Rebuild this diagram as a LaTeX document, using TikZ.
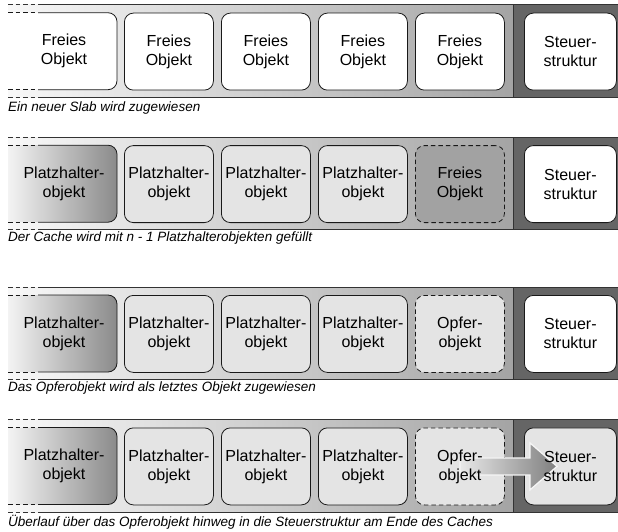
\documentclass[tikz,border=0pt]{standalone}
\usepackage{fontspec}
\setmainfont{Liberation Sans}
\usetikzlibrary{calc}

\definecolor{bandlight}{HTML}{F8F8F8}
\definecolor{banddark}{HTML}{A4A4A4}
\definecolor{ctrlbg}{HTML}{656565}
\definecolor{edgegray}{HTML}{333333}
\definecolor{objgray}{HTML}{E4E4E4}
\definecolor{freegray}{HTML}{A2A2A2}
\definecolor{holdgray}{HTML}{8A8A8A}

\tikzset{
  x=1pt, y=1pt,
  stripline/.style={draw=edgegray, line width=0.9pt},
  objline/.style={draw=black!90, line width=0.8pt},
  leftdash/.style={dash pattern=on 4.5pt off 3pt},
  objbox/.style={objline, rounded corners=9pt, minimum width=89pt,
    minimum height=77pt, inner sep=0pt, align=center, anchor=north west,
    font=\fontsize{16}{19}\selectfont},
  ctrlbox/.style={objbox, minimum width=92pt},
  spare/.style={objbox, leftdash},
  objtext/.style={inner sep=0pt, align=center, font=\fontsize{16}{19}\selectfont},
  caption/.style={anchor=base west, inner sep=0pt,
    font=\fontsize{13.5}{16}\selectfont\itshape},
  holdshade/.style={left color=white, middle color=black!16, right color=holdgray},
  flowarrow/.style={draw=white!96!black, line width=1.3pt,
    left color=black!9, middle color=black!20, right color=black!50},
}

% background strip of one slab: #1 = top edge (px from the top)
\newcommand\slabstrip[1]{%
  \shade[left color=bandlight, right color=banddark]
    (8,-#1) rectangle (513,-#1-92.5);
  \fill[ctrlbg] (513,-#1) rectangle (618,-#1-92.5);
  \draw[stripline] (38,-#1) -- (618,-#1) (38,-#1-92.5) -- (618,-#1-92.5);
  \draw[stripline, leftdash] (8,-#1) -- (38,-#1) (8,-#1-92.5) -- (38,-#1-92.5);
  \draw[stripline] (513,-#1) -- (513,-#1-92.5);
}

% first object of a slab, cut open on its left side
% #1 = strip top, #2 = fill options, #3 = node name, #4 = text
\newcommand\headobject[4]{%
  \begin{scope}
    \clip (8,0) rectangle (130,-540);
    \path[#2, rounded corners=9pt] (-4,-#1-8) rectangle (117,-#1-85);
  \end{scope}
  \begin{scope}
    \clip (38,0) rectangle (130,-540);
    \draw[objline, rounded corners=9pt] (-4,-#1-8) rectangle (117,-#1-85);
  \end{scope}
  \draw[objline, leftdash] (8,-#1-8) -- (38,-#1-8) (8,-#1-85) -- (38,-#1-85);
  \node[objtext] (#3) at (64,-#1-46.5) {#4};
}

\begin{document}
\begin{tikzpicture}
\useasboundingbox (0,0) rectangle (618,-532);

% ---- a new slab is allocated
\slabstrip{4.7}
\headobject{4.7}{fill=white}{a1}{Freies\\Objekt}
\node[objbox, fill=white] (a2) at (124,-12.7) {Freies\\Objekt};
\node[objbox, fill=white] (a3) at (221,-12.7) {Freies\\Objekt};
\node[objbox, fill=white] (a4) at (318,-12.7) {Freies\\Objekt};
\node[objbox, fill=white] (a5) at (415,-12.7) {Freies\\Objekt};
\node[ctrlbox, fill=white] (as) at (524,-12.7) {Steuer-\\struktur};
\node[caption] (capa) at (8,-111.5) {Ein neuer Slab wird zugewiesen};

% ---- cache filled with n-1 placeholder objects
\slabstrip{137.2}
\headobject{137.2}{holdshade}{b1}{Platzhalter-\\objekt}
\node[objbox, fill=objgray] (b2) at (124,-145.2) {Platzhalter-\\objekt};
\node[objbox, fill=objgray] (b3) at (221,-145.2) {Platzhalter-\\objekt};
\node[objbox, fill=objgray] (b4) at (318,-145.2) {Platzhalter-\\objekt};
\node[spare, fill=freegray] (b5) at (415,-145.2) {Freies\\Objekt};
\node[ctrlbox, fill=white] (bs) at (524,-145.2) {Steuer-\\struktur};
\node[caption] (capb) at (8,-241.2) {Der Cache wird mit n - 1 Platzhalterobjekten gefüllt};

% ---- victim object allocated last
\slabstrip{287}
\headobject{287}{holdshade}{c1}{Platzhalter-\\objekt}
\node[objbox, fill=objgray] (c2) at (124,-295) {Platzhalter-\\objekt};
\node[objbox, fill=objgray] (c3) at (221,-295) {Platzhalter-\\objekt};
\node[objbox, fill=objgray] (c4) at (318,-295) {Platzhalter-\\objekt};
\node[spare, fill=objgray] (c5) at (415,-295) {Opfer-\\objekt};
\node[ctrlbox, fill=white] (cs) at (524,-295) {Steuer-\\struktur};
\node[caption] (capc) at (8,-391.5) {Das Opferobjekt wird als letztes Objekt zugewiesen};

% ---- overflow past the victim into the control structure
\slabstrip{419.5}
\headobject{419.5}{holdshade}{d1}{Platzhalter-\\objekt}
\node[objbox, fill=objgray] (d2) at (124,-427.5) {Platzhalter-\\objekt};
\node[objbox, fill=objgray] (d3) at (221,-427.5) {Platzhalter-\\objekt};
\node[objbox, fill=objgray] (d4) at (318,-427.5) {Platzhalter-\\objekt};
\node[spare, fill=objgray] (d5) at (415,-427.5) {};
\node[ctrlbox, fill=objgray] (ds) at (524,-427.5) {};
\node[caption] (capd) at (8,-526) {Überlauf über das Opferobjekt hinweg in die Steuerstruktur am Ende des Caches};

% overflow arrow from the victim object into the control structure
\coordinate (tail) at (d5.center);
\coordinate (tip) at ($(ds.west)+(33,0)$);
\path[flowarrow]
  ($(tail)+(0,8.5)$) -- ($(tip)+(-27,8.5)$) -- ($(tip)+(-27,23.5)$) -- (tip)
  -- ($(tip)+(-27,-23.5)$) -- ($(tip)+(-27,-8.5)$) -- ($(tail)+(0,-8.5)$) -- cycle;
\node[objtext] (d5t) at (d5.center) {Opfer-\\objekt};
\node[objtext] (dst) at (ds.center) {Steuer-\\struktur};
\end{tikzpicture}
\end{document}
